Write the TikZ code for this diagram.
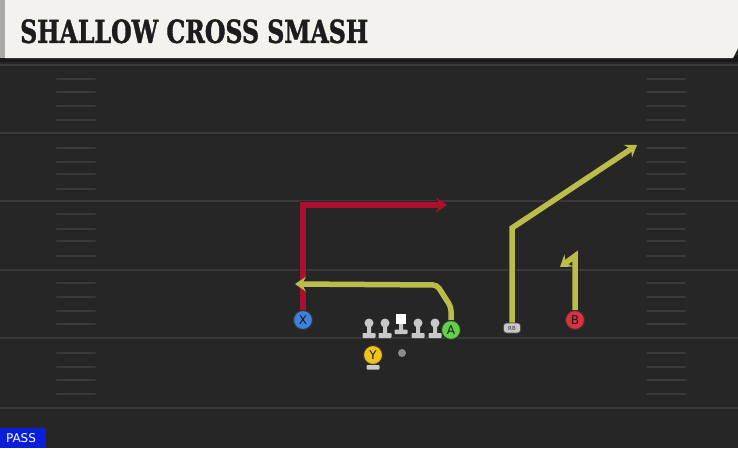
\documentclass[tikz,border=0pt]{standalone}
\usepackage{fontspec}
\usepackage{graphicx}
\setmainfont{DejaVu Serif}
\newfontfamily\titlefont{DejaVu Serif}[BoldFeatures={FakeBold=1.5}]
\newfontfamily\plfont{DejaVu Sans}
\usetikzlibrary{arrows.meta}
\definecolor{fieldbg}{HTML}{262626}
\definecolor{yardline}{HTML}{3A3A3A}
\definecolor{hashc}{HTML}{3A3A3A}
\definecolor{cream}{HTML}{F4F2EC}
\definecolor{leftstrip}{HTML}{A9AAA5}
\definecolor{titletext}{HTML}{1C1C1C}
\definecolor{routeyel}{HTML}{BCBC4A}
\definecolor{routered}{HTML}{AC0F30}
\definecolor{pblue}{HTML}{3F80DC}
\definecolor{pgreen}{HTML}{62D04B}
\definecolor{pred}{HTML}{E0303E}
\definecolor{pyellow}{HTML}{F2C21C}
\definecolor{olgray}{HTML}{C8C8C8}
\definecolor{passblue}{HTML}{0B1FDB}
\tikzset{
  yard/.style={draw=yardline, line width=2pt},
  hash/.style={draw=hashc, line width=2pt, line cap=round},
  route/.style={line width=5.5pt, line join=miter,
    -{Stealth[length=11pt,width=15pt,inset=4pt]},
    preaction={draw=black!85, line width=7.5pt,
      -{Stealth[length=13pt,width=18pt,inset=4pt]}}},
  yroute/.style={route, draw=routeyel},
  rroute/.style={route, draw=routered},
  player/.style={circle, minimum size=19pt, inner sep=0pt, draw=black!80,
    line width=1pt, font=\plfont\fontsize{12}{12}\selectfont, text=black!90},
  olhead/.style={circle, fill=olgray, minimum size=9pt, inner sep=0pt},
  olbase/.style={fill=olgray, rounded corners=0.8pt},
}
\begin{document}
\begin{tikzpicture}[x=1pt,y=-1pt]
\useasboundingbox (0,0) rectangle (738,448);
\fill[fieldbg] (0,0) rectangle (738,448);
% yard lines
\foreach \yy in {65,133,201,270,338,408}
  \draw[yard] (0,\yy) -- (738,\yy);
% hash marks
\foreach \yy in {79,92,106,120,148,162,174,189,214,229,241,256,283,297,311,324,353,367,380,394} {
  \draw[hash] (57,\yy) -- (95,\yy);
  \draw[hash] (647,\yy) -- (685,\yy);
}
% title bar
\fill[black!90] (0,56) rectangle (738,62);
\fill[leftstrip] (0,0) rectangle (5,58);
\fill[cream] (5,0) -- (738,0) -- (738,48) -- (733,58) -- (5,58) -- cycle;
\node[anchor=south west, inner sep=0pt, text=titletext] (title) at (20,43.5)
  {\resizebox{348pt}{23.5pt}{\titlefont\bfseries SHALLOW CROSS SMASH}};
% PASS label
\fill[passblue] (0,428) rectangle (46,448);
\node[text=white, font=\plfont\fontsize{12}{12}\selectfont, inner sep=0pt] (pass) at (21,438.5) {PASS};
% turning points
\coordinate (xc) at (303,205);
\coordinate (xe) at (447,205);
\coordinate (a1) at (451,307);
\coordinate (a2) at (437,285);
\coordinate (ae) at (295,284);
\coordinate (r1) at (512,228);
\coordinate (re) at (637,145);
\coordinate (b1) at (575,256);
\coordinate (be) at (560,267);
% players
\node[player, fill=pblue] (X) at (303,320) {X};
\node[player, fill=pgreen] (A) at (451,330) {A};
\node[player, fill=pred] (B) at (575,320) {B};
\node[player, fill=pyellow] (Y) at (373,355) {Y};
\node[fill=olgray, draw=black!70, line width=0.6pt, rounded corners=3pt, minimum width=17pt,
  minimum height=10pt, inner sep=0pt, font=\plfont\fontsize{5.5}{5.5}\selectfont, text=black!80] (RB) at (512,328) {RB};
% routes
\draw[rroute] (X.north) -- (xc) -- (xe);
\draw[yroute, rounded corners=4pt] (A.north) -- (a1) -- (a2) -- (ae);
\draw[yroute] (RB.north) -- (r1) -- (re);
\draw[yroute] (B.north) -- (b1) -- (be);
\node[player, fill=pblue] at (X) {X};
\node[player, fill=pgreen] at (A) {A};
\node[player, fill=pred] at (B) {B};
% offensive line
\foreach \xx/\nm in {369/l1,385/l2,418/l3,435/l4} {
  \fill[olbase] (\xx-2,323) rectangle (\xx+2,334);
  \fill[olbase] (\xx-6.5,333) rectangle (\xx+6.5,338);
  \node[olhead] (\nm) at (\xx,323) {};
}
\fill[olbase] (399,320) rectangle (403,331);
\fill[olbase] (394.5,329.5) rectangle (407.5,334);
\node[fill=white, minimum size=10pt, inner sep=0pt] (C) at (401,318.5) {};
% Y stand
\fill[olbase] (371,362) rectangle (375,366);
\fill[olbase] (366.5,365) rectangle (379.5,369.5);
\node[player, fill=pyellow] at (Y) {Y};
% ball
\node[circle, fill=black!45, minimum size=8pt, inner sep=0pt] (ball) at (402,353) {};
\end{tikzpicture}
\end{document}
